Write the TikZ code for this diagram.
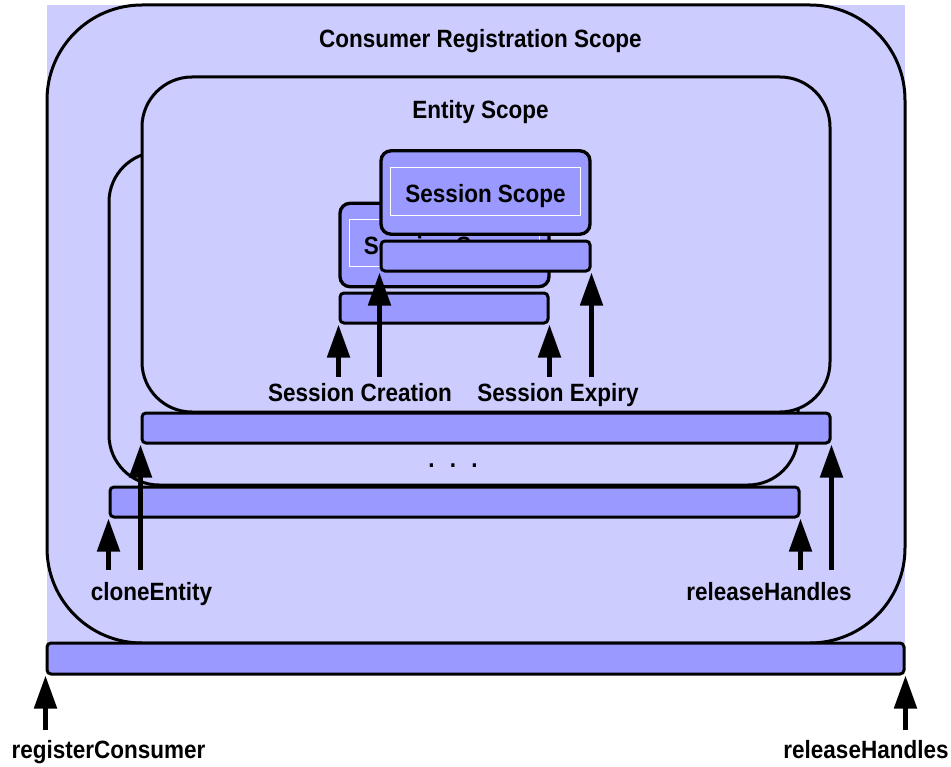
\documentclass[tikz,border=0pt]{standalone}
\usepackage{fontspec}
\setmainfont[FakeStretch=0.9]{Liberation Sans}
\usetikzlibrary{arrows.meta}

\definecolor{scopebg}{HTML}{CCCCFF}
\definecolor{barfill}{HTML}{9999FF}
\newcommand{\lblfont}{\fontsize{18.75pt}{22pt}\selectfont\bfseries}

\tikzset{
  scopebox/.style={draw, line width=2.25pt, fill=scopebg, inner sep=0pt},
  bar/.style={draw, line width=2.25pt, fill=barfill, rounded corners=3pt,
    inner sep=0pt, minimum height=22.5pt},
  sessbox/.style={draw, line width=2.5pt, fill=barfill, rounded corners=7.5pt,
    inner sep=0pt, minimum width=156.75pt, minimum height=62.5pt},
  inframe/.style={draw=white, line width=0.6pt},
  lbl/.style={anchor=base, inner sep=0pt, font=\lblfont},
  arr/.style={line width=3.75pt, -{Triangle[length=24.75pt,width=16.5pt]}},
}

\begin{document}
\begin{tikzpicture}[x=0.75pt, y=-0.75pt]
            \useasboundingbox (0,0) rectangle (951,767);
            \fill[scopebg] (47,5) rectangle (905,643);

            % scopes
            \node[scopebox, rounded corners=71.25pt, minimum width=643.5pt,
            minimum height=478.5pt] (consumer) at (476,324) {};
            \node[scopebox, rounded corners=37.5pt, minimum width=516.75pt,
            minimum height=249.75pt] (entityB) at (453.5,318.5) {};
            \node[scopebox, rounded corners=37.5pt, minimum width=516pt,
            minimum height=251.25pt] (entityA) at (486,244.5) {};
            \node[lbl] (crtitle) at (480.5,48) {Consumer Registration Scope};
            \node[lbl] (entitytitle) at (480.5,119) {Entity Scope};

            % lifetime bars
            \node[bar, minimum width=516pt] (entityAbar) at (486,428) {};
            \node[bar, minimum width=516.75pt] (entityBbar) at (454.5,502) {};
            \node[bar, minimum width=642.75pt, minimum height=23.25pt]
            (consumerbar) at (475.5,658.5) {};
            \node[lbl] (dots) at (453,467) {.\hspace{11.5pt}.\hspace{11.5pt}.};

            % session scopes, back one first
            \node[sessbox] (sessB) at (444.5,245) {};
            \draw[inframe] (349,219) rectangle (539,266);
            \node[lbl] (sessBtitle) at (444,254) {Session Scope};
            \node[bar, minimum width=156pt] (sessBbar) at (444,308) {};
            \node[sessbox] (sessA) at (485.5,192.5) {};
            \draw[inframe] (390,167) rectangle (580,215);
            \node[lbl] (sessAtitle) at (485.5,202) {Session Scope};
            \node[bar, minimum width=156.75pt] (sessAbar) at (485.5,256) {};

            % labels
            \node[lbl] (creation) at (360,401) {Session Creation};
            \node[lbl] (expiry) at (558,401) {Session Expiry};
            \node[lbl] (clone) at (151.5,600) {cloneEntity};
            \node[lbl] (releaseE) at (769,600) {releaseHandles};
            \node[lbl] (register) at (108.5,758) {registerConsumer};
            \node[lbl] (releaseC) at (866,758) {releaseHandles};

            % arrows
            \coordinate (sc) at (0,377); \coordinate (ce) at (0,570);
            \coordinate (rc) at (0,730);
            \draw[arr] (sessBbar.south west |- sc) -- (sessBbar.south west);
            \draw[arr] (sessAbar.south west |- sc) -- (sessAbar.south west);
            \draw[arr] (sessBbar.south east |- sc) -- (sessBbar.south east);
            \draw[arr] (sessAbar.south east |- sc) -- (sessAbar.south east);
            \draw[arr] (entityBbar.south west |- ce) -- (entityBbar.south west);
            \draw[arr] (entityAbar.south west |- ce) -- (entityAbar.south west);
            \draw[arr] (entityBbar.south east |- ce) -- (entityBbar.south east);
            \draw[arr] (entityAbar.south east |- ce) -- (entityAbar.south east);
            \draw[arr] (consumerbar.south west |- rc) -- (consumerbar.south west);
            \draw[arr] (consumerbar.south east |- rc) -- (consumerbar.south east);

\end{tikzpicture}
\end{document}
